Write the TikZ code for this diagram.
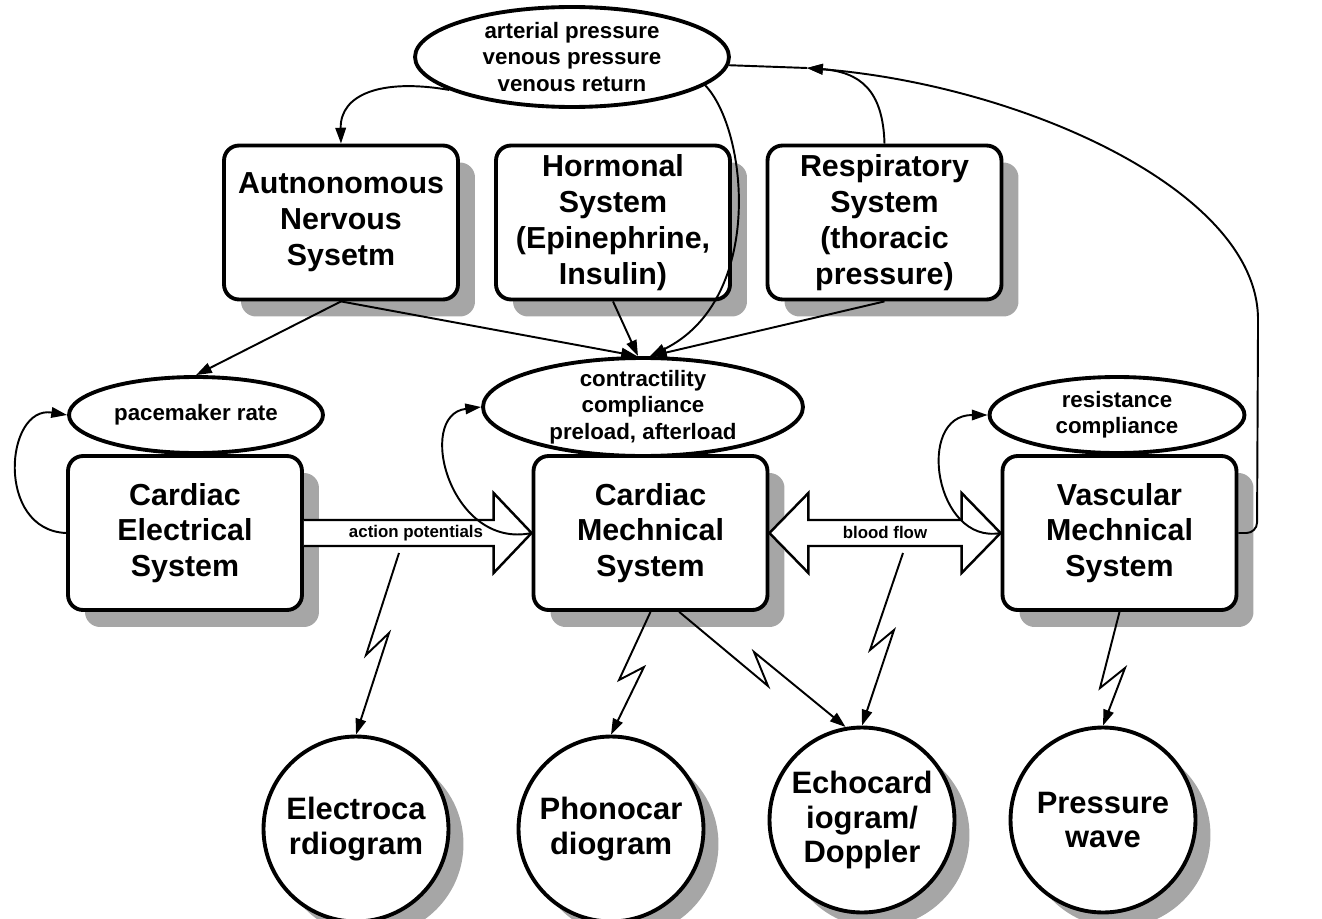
\documentclass[tikz,border=0pt]{standalone}
\usepackage{fontspec}
\setmainfont{Liberation Sans}
\usetikzlibrary{arrows.meta,shapes.geometric,shadows,calc}

\tikzset{
  sysbox/.style={draw, line width=2.2pt, rounded corners=0.3cm, fill=white,
    minimum width=4.68cm, minimum height=3.08cm, inner sep=2pt, align=center,
    font=\fontsize{17.3}{20.4}\selectfont\bfseries,
    drop shadow={shadow xshift=0.34cm, shadow yshift=-0.34cm, opacity=1, fill=black!35}},
  param/.style={ellipse, draw, line width=2.2pt, fill=white, align=center,
    inner xsep=0pt, inner ysep=-3pt, font=\fontsize{12.7}{15}\selectfont\bfseries},
  signal/.style={circle, draw, line width=2.2pt, fill=white, minimum size=3.7cm,
    inner sep=0pt, align=center, font=\fontsize{17.6}{19.8}\selectfont\bfseries,
    drop shadow={shadow xshift=0.3cm, shadow yshift=-0.3cm, opacity=1, fill=black!35}},
  link/.style={line width=1.1pt, -{Triangle[length=9pt,width=6pt]}},
  flow/.style={draw, line width=1.4pt, fill=white},
  flowlabel/.style={inner sep=1pt, font=\fontsize{9.6}{11}\selectfont\bfseries}
}

\begin{document}
\begin{tikzpicture}[x=0.02cm, y=-0.02cm]
\useasboundingbox (0,0) rectangle (1322,919);

% regulating systems
\node[sysbox] (ans) at (341,222.5) {Autnonomous\\Nervous\\Sysetm};
\node[sysbox] (horm) at (613,222.5) {Hormonal\\System\\(Epinephrine,\\Insulin)};
\node[sysbox] (resp) at (884.5,222.5) {Respiratory\\System\\(thoracic\\pressure)};

% heart and vessels
\node[sysbox] (elec) at (185,533) {Cardiac\\Electrical\\System};
\node[sysbox] (mech) at (650.5,533) {Cardiac\\Mechnical\\System};
\node[sysbox] (vasc) at (1119.5,533) {Vascular\\Mechnical\\System};

% parameters
\node[param, minimum width=6.28cm, minimum height=2cm] (pressures) at (572,57) {arterial pressure\\venous pressure\\venous return};
\node[param, minimum width=5.08cm, minimum height=1.52cm] (pace) at (196,415) {pacemaker rate};
\node[param, minimum width=6.4cm, minimum height=1.96cm] (contr) at (643,407) {contractility\\compliance\\preload, afterload};
\node[param, minimum width=5.1cm, minimum height=1.52cm] (resist) at (1117,415) {resistance\\compliance};

% measured signals
\node[signal] (ecg) at (356,829) {Electroca\\rdiogram};
\node[signal] (pcg) at (611,829) {Phonocar\\diogram};
\node[signal] (echo) at (862,820) {Echocard\\iogram/\\Doppler};
\node[signal] (pw) at (1103,820) {Pressure\\wave};

% wide arrows
\draw[flow] ($(elec.east)+(0,-13)$) -- ($(mech.west)+(-38,-13)$) -- ($(mech.west)+(-38,-40)$) -- (mech.west)
  -- ($(mech.west)+(-38,40)$) -- ($(mech.west)+(-38,13)$) -- ($(elec.east)+(0,13)$);
\draw[flow] (mech.east) -- ($(mech.east)+(39,-40)$) -- ($(mech.east)+(39,-13)$) -- ($(vasc.west)+(-39,-13)$)
  -- ($(vasc.west)+(-39,-40)$) -- (vasc.west) -- ($(vasc.west)+(-39,40)$) -- ($(vasc.west)+(-39,13)$)
  -- ($(mech.east)+(39,13)$) -- ($(mech.east)+(39,40)$) -- cycle;
\node[flowlabel] (aplab) at (416,533) {action potentials};
\node[flowlabel] (bflab) at (885,532) {blood flow};

\coordinate (join) at (807,68);
\coordinate (apfoot) at (399,553);
\coordinate (bffoot) at (903,553);

% control loops
\draw[link] (pressures.195) .. controls (380,78) and (340,95) .. (ans.north);
\draw[link] (pressures.-12) .. controls (748,130) and (765,300) .. ([xshift=0.14cm]contr.north);
\draw[link] (ans.south) -- (pace.north);
\draw[link] (ans.south) -- ([xshift=-0.12cm]contr.north);
\draw[link] (horm.south) -- ([xshift=-0.1cm]contr.north);
\draw[link] (resp.south) -- ([xshift=0.16cm]contr.north);
\draw[link] (resp.north) .. controls (883,90) and (860,72) .. (join);
\draw[link, rounded corners=6pt] (vasc.east) -- (1257,533) -- (1258,330) .. controls (1258,190) and (1020,85) .. (join);
\draw[line width=1.1pt] (join) -- (pressures.-3);

% self feedback
\draw[link] (elec.west) .. controls (-5,530) and (5,405) .. (pace.west);
\draw[link] (mech.west) .. controls (450,550) and (415,415) .. (contr.west);
\draw[link] (vasc.west) .. controls (935,545) and (915,415) .. (resist.west);

% signals (lightning arrows)
\draw[link] (apfoot) -- (366,655) -- (389,633) -- (ecg.north);
\draw[link] (mech.south) -- (619,680) -- (644,667) -- (pcg.north);
\draw[link] (mech.-70) -- (768,686) -- (754,652) -- (echo.100);
\draw[link] (bffoot) -- (870,650) -- (894,630) -- (echo.north);
\draw[link] (vasc.south) -- (1100,688) -- (1125,668) -- (pw.north);
\end{tikzpicture}
\end{document}
